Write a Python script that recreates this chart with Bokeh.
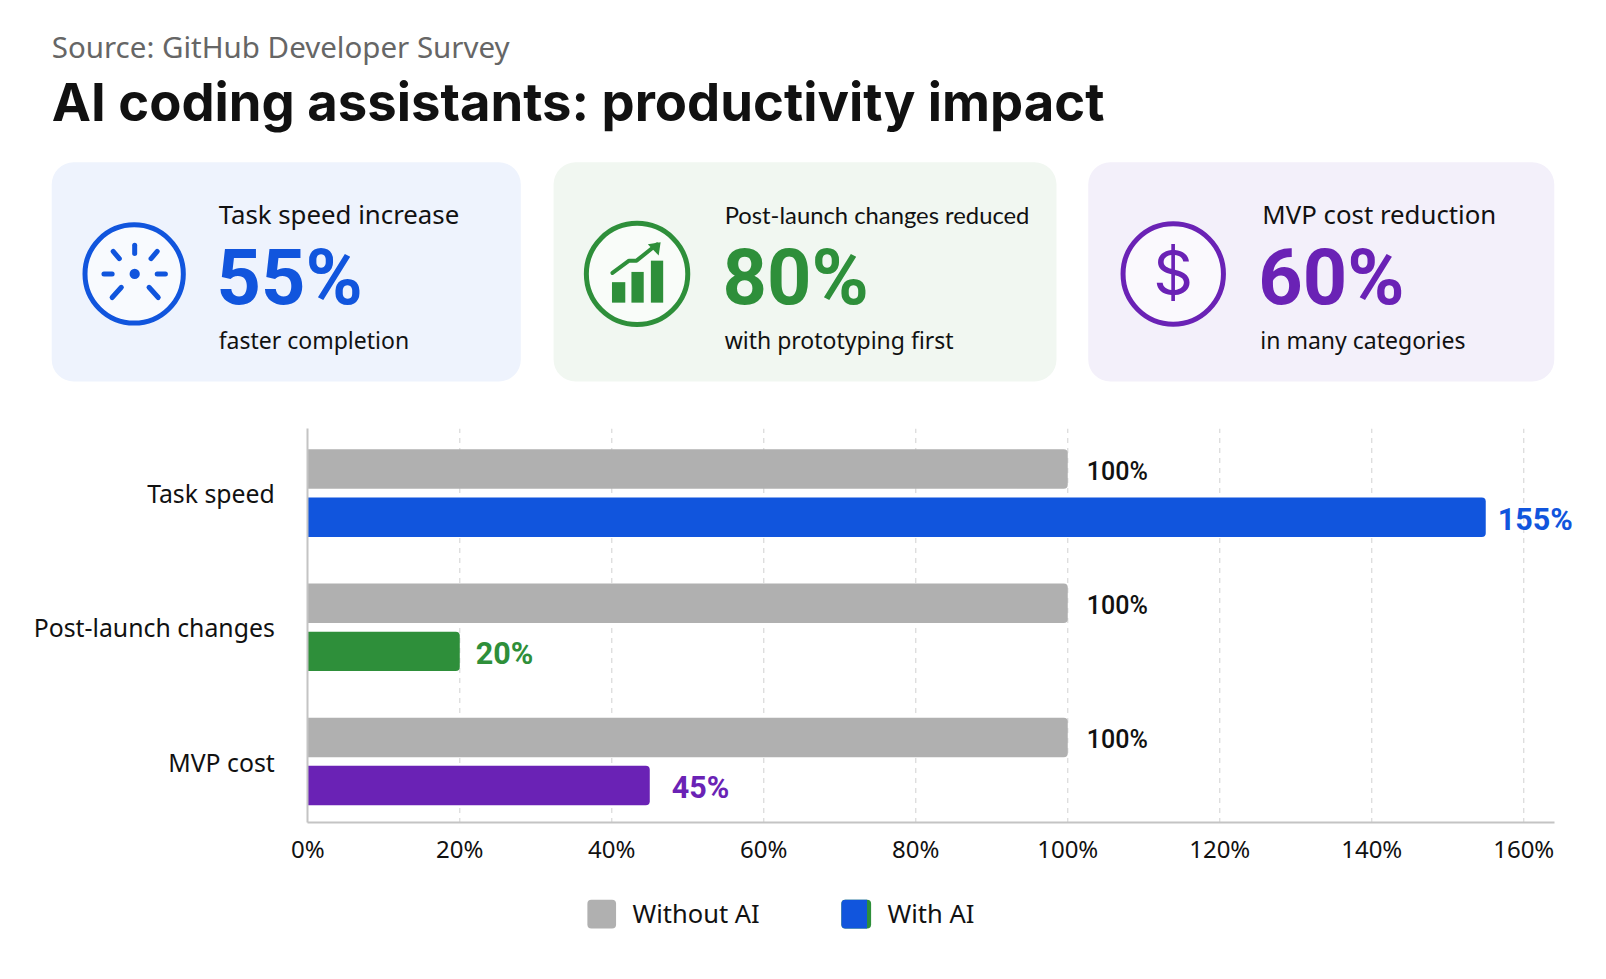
from bokeh.core.properties import value
from bokeh.embed import file_html
from bokeh.resources import INLINE
from bokeh.plotting import figure
from bokeh.models import Range1d, FixedTicker, PrintfTickFormatter, ColumnDataSource

# ---------- data ----------
categories = ["Task speed", "Post-launch changes", "MVP cost"]
without_ai = [100, 100, 100]
with_ai = [155, 20, 45]
with_colors = ["#1155DD", "#2E8F3A", "#6A22B5"]
x_ticks = [0, 20, 40, 60, 80, 100, 120, 140, 160]
source_text = "Source: GitHub Developer Survey"
title_text = "AI coding assistants: productivity impact"
kpi_labels = ["Task speed increase", "Post-launch changes reduced", "MVP cost reduction"]
kpi_values = ["55%", "80%", "60%"]
kpi_notes = ["faster completion", "with prototyping first", "in many categories"]
legend_labels = ["Without AI", "With AI"]

# ---------- layout (reference-picture units; F maps them to page pixels) ----------
F = 1606 / 1568
W, H = 1590, 963
BODY = value("Noto Sans")
TITLE = value("Inter")
NUM = value("Roboto")
GREY = "#B0B0B0"
INK = "#111111"
PX_PER_PCT = 7.42 * F
ROW = 131 * F
x_start = -(300 * F) / PX_PER_PCT
y_end = (743 * F) / ROW
axis_y = (743 - 803) / 131
axis_top = (743 - 418) / 131

p = figure(width=W, height=H, output_backend="svg", toolbar_location=None, min_border=0,
           x_range=Range1d(x_start, x_start + W / PX_PER_PCT),
           y_range=Range1d(y_end - H / ROW, y_end),
           outline_line_color=None, background_fill_color="white", border_fill_color="white")
p.extra_x_ranges["px"] = Range1d(0, W / F)
p.extra_y_ranges["px"] = Range1d(H / F, 0)
PX = dict(x_range_name="px", y_range_name="px")

# ---------- header ----------
p.text([50], [45], text=[source_text], text_font=BODY, text_font_size="29.5px", text_color="#666666",
       text_baseline="middle", **PX)
p.text([50], [99], text=[title_text], text_font=TITLE, text_font_style="bold", text_font_size="52.6px",
       text_color=INK, text_baseline="middle", **PX)

card_left = [50, 540, 1062]
card_right = [508, 1031, 1517]
card_fill = ["#EEF3FD", "#F1F7F1", "#F3F0FA"]
p.quad(left=card_left, right=card_right, top=[158] * 3, bottom=[372] * 3, fill_color=card_fill,
       line_color=None, border_radius=22, **PX)

icon_x = [130.5, 621.5, 1145]
p.circle(icon_x, [267] * 3, radius=[48, 49.5, 49], fill_color="white", fill_alpha=0.6, line_color=with_colors,
         line_width=5, **PX)

label_x = [213, 707, 1232]
value_x = [211, 705, 1228]
note_x = [213, 707, 1230]
for i in (0, 2):
    p.text([label_x[i]], [208], text=[kpi_labels[i]], text_font=BODY, text_font_size="25.8px", text_color=INK,
           text_baseline="middle", **PX)
p.text([label_x[1]], [209], text=[kpi_labels[1]], text_font=value("Lato"), text_font_size="23.8px", text_color=INK,
       text_baseline="middle", **PX)
p.text(value_x, [270] * 3, text=kpi_values, text_font=NUM, text_font_style="bold", text_font_size="77.5px",
       text_color=with_colors, text_baseline="middle", **PX)
p.text(note_x, [331] * 3, text=kpi_notes, text_font=BODY, text_font_size="23px", text_color=INK,
       text_baseline="middle", **PX)

# icon 1: gauge ticks
p.circle([131], [267], radius=5, fill_color=with_colors[0], line_color=None, **PX)
p.multi_line([[131, 131], [101, 109], [153, 161], [110, 116], [153, 147], [109, 118], [154, 145]],
             [[239, 247], [267, 267], [267, 267], [245, 252], [245, 252], [290, 280], [290, 280]],
             line_color=with_colors[0], line_width=5, line_cap="round", **PX)
# icon 2: bars and arrow
p.quad(left=[597, 616, 635], right=[610, 628, 647], top=[275, 265, 254], bottom=[295, 295, 295],
       fill_color=with_colors[1], line_color=None, **PX)
p.line([597.5, 613.7, 621, 641], [266, 254, 254, 238], line_color=with_colors[1], line_width=4,
       line_cap="round", **PX)
p.patch([644.5, 632, 642.6], [236, 238, 249], fill_color=with_colors[1], line_color=None, **PX)
# icon 3: dollar
p.text([1145], [266], text=["$"], text_font=TITLE, text_font_size="62px", text_color=with_colors[2],
       text_align="center", text_baseline="middle", **PX)

# ---------- chart ----------
y_pos = {c: 2 - i for i, c in enumerate(categories)}
ys = [y_pos[c] for c in categories]
BAR_H = 38.5 / 131
OFF = 23.5 / 131
grey_src = ColumnDataSource(dict(y=[v + OFF for v in ys], val=without_ai,
                                 txt=[f"{v}%" for v in without_ai]))
ai_src = ColumnDataSource(dict(y=[v - OFF for v in ys], val=with_ai, col=with_colors,
                               txt=[f"{v}%" for v in with_ai], dx=[12, 16, 22]))
p.segment(x0=x_ticks[1:], x1=x_ticks[1:], y0=axis_y, y1=axis_top, line_color="#D9D9D9", line_width=1.2,
          line_dash=value([5, 5]))
p.hbar(y="y", right="val", left=0, height=BAR_H, source=grey_src, fill_color=GREY, line_color=None,
       border_radius=(0, 4, 4, 0))
p.hbar(y="y", right="val", left=0, height=BAR_H, source=ai_src, fill_color="col", line_color=None,
       border_radius=(0, 4, 4, 0))
p.text(x="val", y="y", text="txt", source=grey_src, x_offset=19, y_offset=2, text_font=value("Roboto Medium"),
       text_font_size="25px", text_color=INK, text_baseline="middle")
p.text(x="val", y="y", text="txt", source=ai_src, x_offset="dx", y_offset=2, text_font=NUM, text_font_style="bold",
       text_font_size="30.5px", text_color="col", text_baseline="middle")

p.grid.visible = False
p.xaxis.fixed_location = axis_y
p.yaxis.fixed_location = 0
p.xaxis.ticker = FixedTicker(ticks=x_ticks)
p.xaxis.formatter = PrintfTickFormatter(format="%d%%")
p.xaxis.bounds = (0, 164)
p.yaxis.bounds = (axis_y, axis_top)
p.yaxis.ticker = FixedTicker(ticks=ys)
p.yaxis.major_label_overrides = {y_pos[c]: c for c in categories}
for ax in (p.xaxis[0], p.yaxis[0]):
    ax.major_tick_line_color = None
    ax.minor_tick_line_color = None
    ax.axis_line_color = "#C4C4C4"
    ax.axis_line_width = 2
    ax.major_label_text_font = "Noto Sans"
    ax.major_label_text_color = INK
p.xaxis.major_label_text_font_size = "24px"
p.yaxis.major_label_text_font_size = "24.8px"
p.xaxis.major_label_standoff = 3
p.yaxis.major_label_standoff = 27

# ---------- legend ----------
p.quad(left=[573], right=[601], top=[878], bottom=[906], fill_color=GREY, line_color=None, border_radius=4, **PX)
p.quad(left=[821], right=[850], top=[878], bottom=[906], fill_color=with_colors[1], line_color=None,
       border_radius=4, **PX)
p.quad(left=[821], right=[846], top=[878], bottom=[906], fill_color=with_colors[0], line_color=None,
       border_radius=(4, 0, 0, 4), **PX)
p.text([617, 866], [891, 891], text=legend_labels, text_font=BODY, text_font_size="25.5px", text_color=INK,
       text_baseline="middle", **PX)

open("out.html", "w").write(file_html(p, INLINE))
